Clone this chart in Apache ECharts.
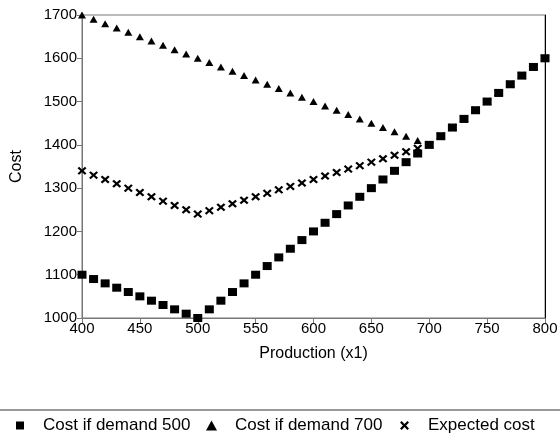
<!DOCTYPE html>
<html>
<head>
<meta charset="utf-8">
<script src="https://cdn.jsdelivr.net/npm/echarts@6/dist/echarts.min.js"></script>
<style>html,body{margin:0;padding:0;background:#fff}#c{width:560px;height:442px}</style>
</head>
<body>
<div id="c"></div>
<script>
const production = [400,410,420,430,440,450,460,470,480,490,500,510,520,530,540,550,560,570,580,590,600,610,620,630,640,650,660,670,680,690,700,710,720,730,740,750,760,770,780,790,800];
const costDemand500 = [1100,1090,1080,1070,1060,1050,1040,1030,1020,1010,1000,1020,1040,1060,1080,1100,1120,1140,1160,1180,1200,1220,1240,1260,1280,1300,1320,1340,1360,1380,1400,1420,1440,1460,1480,1500,1520,1540,1560,1580,1600];
const costDemand700 = [1700,1690,1680,1670,1660,1650,1640,1630,1620,1610,1600,1590,1580,1570,1560,1550,1540,1530,1520,1510,1500,1490,1480,1470,1460,1450,1440,1430,1420,1410,1400,1420,1440,1460,1480,1500,1520,1540,1560,1580,1600];
const expectedCost = [1340,1330,1320,1310,1300,1290,1280,1270,1260,1250,1240,1248,1256,1264,1272,1280,1288,1296,1304,1312,1320,1328,1336,1344,1352,1360,1368,1376,1384,1392,1400,1420,1440,1460,1480,1500,1520,1540,1560,1580,1600];
const seriesNames = ['Cost if demand 500','Cost if demand 700','Expected cost'];
const xTitle = 'Production (x1)';
const yTitle = 'Cost';

const pair = ys => production.map((x,i)=>[x, ys[i]]);
const crossPath = 'path://M1.8,0 L5,3.2 L8.2,0 L10,1.8 L6.8,5 L10,8.2 L8.2,10 L5,6.8 L1.8,10 L0,8.2 L3.2,5 L0,1.8 Z';
const font = 'Liberation Sans, Arial, Helvetica, sans-serif';
const legendText = pad => ({color:'#000',fontSize:17,fontFamily:font,padding:[0,0,0,pad]});

const chart = echarts.init(document.getElementById('c'), null, {renderer:'canvas'});
chart.setOption({
  animation:false,
  backgroundColor:'#fff',
  grid:{left:82,right:15,top:15,bottom:124,show:true,borderColor:'#777',borderWidth:1,outerBoundsMode:'none',containLabel:false},
  xAxis:{type:'value',min:400,max:800,interval:50,
    name:xTitle,nameLocation:'middle',nameGap:28,
    nameTextStyle:{color:'#000',fontSize:16,fontFamily:font},
    axisLine:{show:true,lineStyle:{color:'#777',width:1}},
    axisTick:{show:true,length:5,lineStyle:{color:'#777'}},
    axisLabel:{color:'#000',fontSize:15,fontFamily:font,margin:3},
    splitLine:{show:false}},
  yAxis:[{type:'value',min:1000,max:1700,interval:100,
    name:yTitle,nameLocation:'middle',nameGap:57,nameRotate:90,
    nameTextStyle:{color:'#000',fontSize:16,fontFamily:font},
    axisLine:{show:true,lineStyle:{color:'#777',width:1}},
    axisTick:{show:true,length:5,lineStyle:{color:'#777'}},
    axisLabel:{color:'#000',fontSize:15,fontFamily:font,margin:5,formatter:v=>String(v)},
    splitLine:{show:false}},
   {type:'value',position:'right',min:1000,max:1700,interval:100,
    axisLine:{show:true,lineStyle:{color:'#000',width:1}},
    axisTick:{show:false},axisLabel:{show:false},splitLine:{show:false}}],
  legend:[
    {data:[{name:seriesNames[0],icon:'rect'}],left:16,top:417,padding:0,itemWidth:8,itemHeight:8,textStyle:legendText(14)},
    {data:[{name:seriesNames[1],icon:'triangle'}],left:206,top:417,padding:0,itemWidth:11,itemHeight:10,textStyle:legendText(13)},
    {data:[{name:seriesNames[2],icon:crossPath}],left:400,top:417,padding:0,itemWidth:9,itemHeight:9,textStyle:legendText(14)}
  ],
  graphic:[{type:'rect',shape:{x:0,y:409,width:560,height:2},style:{fill:'#999'},silent:true}],
  series:[
    {name:seriesNames[0],type:'scatter',data:pair(costDemand500),symbol:'rect',symbolSize:[9,8],
      itemStyle:{color:'#000',opacity:1},z:5},
    {name:seriesNames[1],type:'scatter',data:pair(costDemand700),symbol:'triangle',symbolSize:[8,7],
      itemStyle:{color:'#000',opacity:1},z:3},
    {name:seriesNames[2],type:'scatter',data:pair(expectedCost),symbol:crossPath,symbolSize:[9,8],
      itemStyle:{color:'#000',opacity:1},z:4}
  ]
});
</script>
</body>
</html>
